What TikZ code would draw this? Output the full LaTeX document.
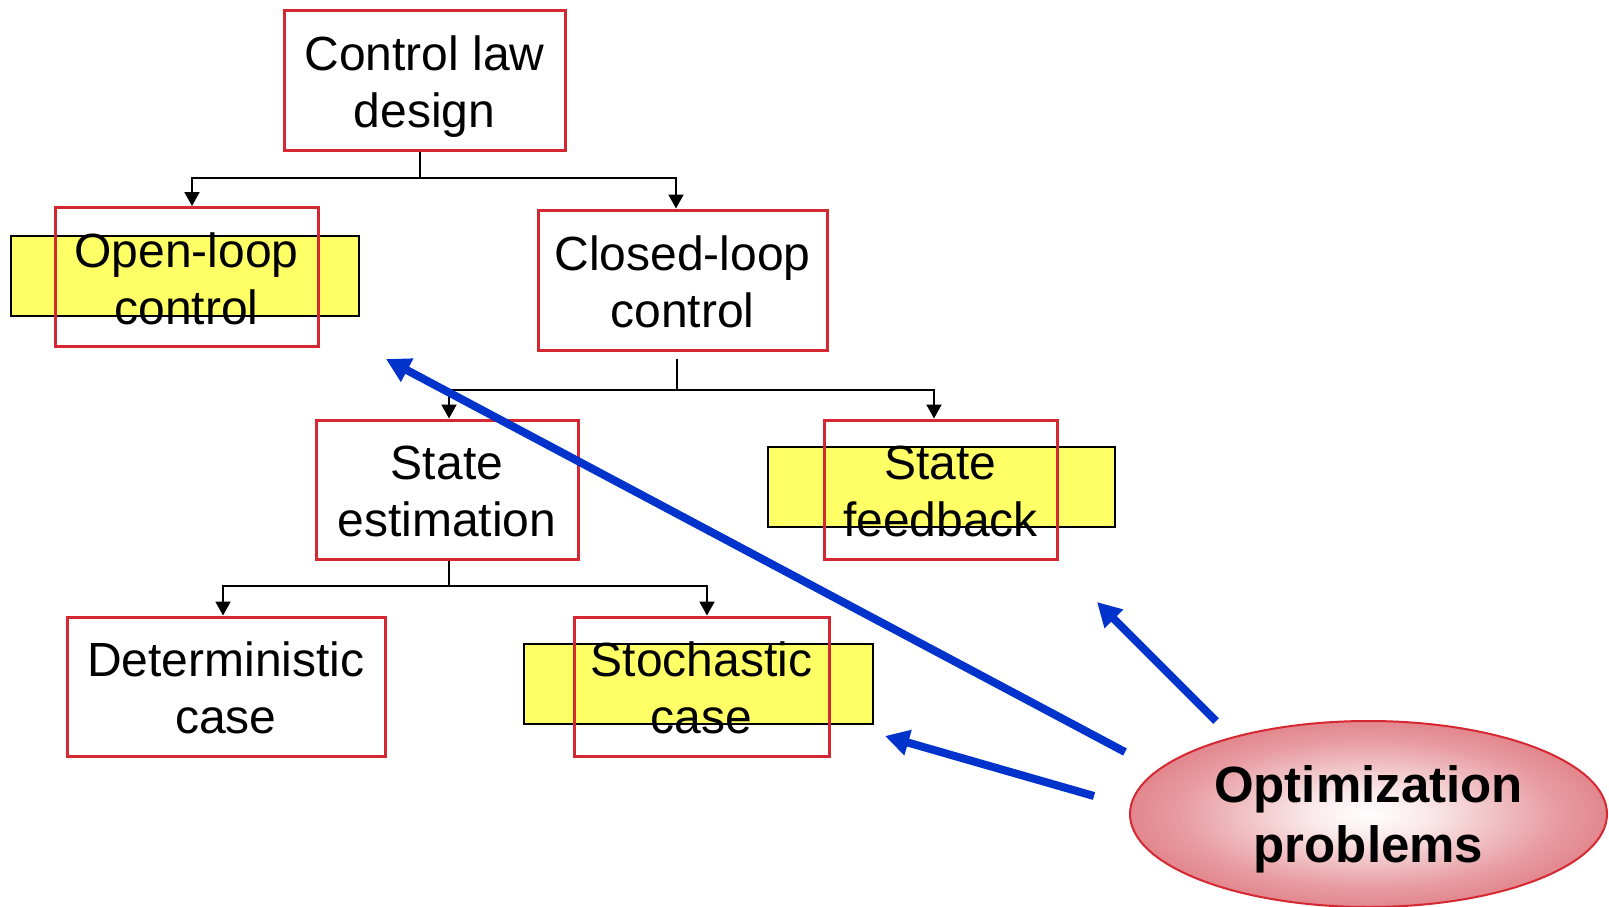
\documentclass[tikz,border=0pt]{standalone}
\usepackage{fontspec}
\setmainfont{Liberation Sans}
\usetikzlibrary{arrows.meta,shapes.geometric}
\definecolor{boxred}{RGB}{214,40,50}
\definecolor{hiyel}{RGB}{255,255,102}
\definecolor{arrblue}{RGB}{0,51,204}
\definecolor{ellred}{RGB}{214,82,92}
\pgfdeclareradialshading{optshade}{\pgfpoint{0bp}{0bp}}{color(0bp)=(white); color(6bp)=(white!88!ellred); color(20bp)=(white!42!ellred); color(38bp)=(ellred); color(100bp)=(ellred)}
\begin{document}
\begin{tikzpicture}[x=1pt,y=-1pt,
  redbox/.style={draw=boxred,line width=3pt,inner sep=0pt,align=center,
    font=\fontsize{48}{57}\selectfont,text height=104pt,text depth=10pt},
  yelbox/.style={draw=black,fill=hiyel,line width=2pt,inner sep=0pt},
  tree/.style={line width=2pt,draw=black},
  treearrow/.style={tree,-{Triangle[length=14pt,width=15pt]}},
  bluearrow/.style={draw=arrblue,line width=8pt,-{Triangle[length=24pt,width=25pt]}},
  optell/.style={ellipse,draw=boxred,line width=2pt,shading=optshade,inner sep=0pt,
    align=center,font=\fontsize{51}{60}\selectfont\bfseries,text height=110pt,text depth=14pt}]
\useasboundingbox (0,0) rectangle (1609,907);
\fill[white] (0,0) rectangle (1609,907);

% yellow highlight bars
\node[yelbox,minimum width=348pt,minimum height=80pt] (olcy) at (185,276) {};
\node[yelbox,minimum width=347pt,minimum height=80pt] (sfy) at (941.5,487) {};
\node[yelbox,minimum width=349pt,minimum height=80pt] (scy) at (698.5,684) {};

% boxes
\node[redbox,minimum width=281pt,minimum height=139pt] (cld) at (424.5,80.5) {Control law\\design};
\node[redbox,minimum width=263pt,minimum height=139pt] (olc) at (186.5,277) {Open-loop\\control};
\node[redbox,minimum width=289pt,minimum height=140pt] (clc) at (682.5,280) {Closed-loop\\control};
\node[redbox,minimum width=262pt,minimum height=139pt] (se) at (447,489.5) {State\\estimation};
\node[redbox,minimum width=233pt,minimum height=139pt] (sf) at (940.5,489.5) {State\\feedback};
\node[redbox,minimum width=318pt,minimum height=139pt] (dc) at (226,686.5) {Deterministic\\case};
\node[redbox,minimum width=255pt,minimum height=139pt] (sc) at (701.5,686.5) {Stochastic\\case};

% ellipse
\node[optell,minimum width=477pt,minimum height=186pt] (opt) at (1368.5,814) {Optimization\\problems};

% tree connectors
\coordinate (b1) at (420,178);
\draw[tree] (cld.south -| b1) -- (b1);
\draw[treearrow] (b1) -| ([xshift=5.5pt]olc.north);
\draw[treearrow] (b1) -| ([xshift=-6.5pt]clc.north);

\coordinate (b2t) at (677,359);
\coordinate (b2) at (677,390);
\draw[tree] (b2t) -- (b2);
\draw[treearrow] (b2) -| ([xshift=2pt]se.north);
\draw[treearrow] (b2) -| ([xshift=-6.5pt]sf.north);

\coordinate (b3) at (449,586);
\draw[tree] (se.south -| b3) -- (b3);
\draw[treearrow] (b3) -| ([xshift=-3pt]dc.north);
\draw[treearrow] (b3) -| ([xshift=5.5pt]sc.north);

% blue arrows
\coordinate (s1) at (1125,752);
\coordinate (t1) at (386,359);
\coordinate (s2) at (1216,721);
\coordinate (t2) at (1097,602);
\coordinate (s3) at (1094,796);
\coordinate (t3) at (885,736);
\draw[bluearrow] (s1) -- (t1);
\draw[bluearrow] (s2) -- (t2);
\draw[bluearrow] (s3) -- (t3);
\end{tikzpicture}
\end{document}
